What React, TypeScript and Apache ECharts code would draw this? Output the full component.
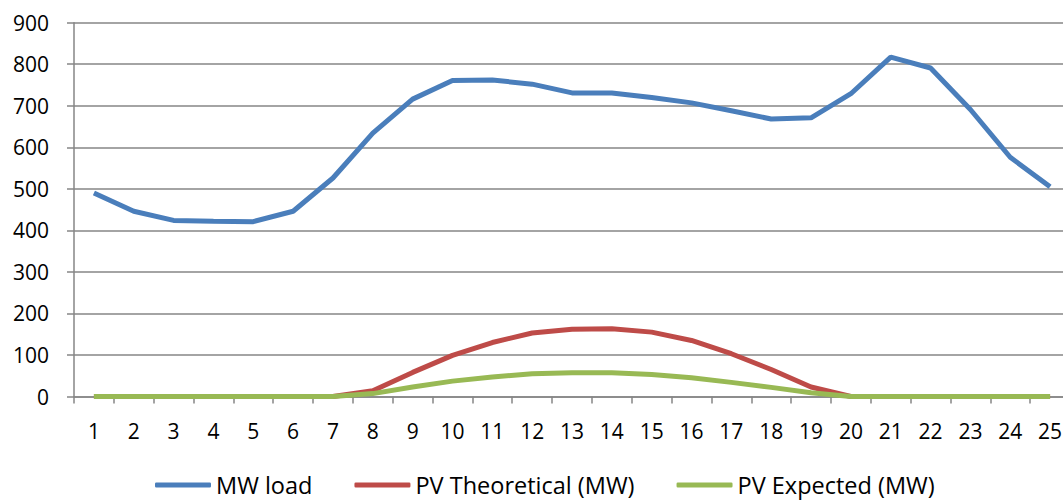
import React, { useEffect, useRef } from "react";
import * as echarts from "echarts";

const categories = ["1","2","3","4","5","6","7","8","9","10","11","12","13","14","15","16","17","18","19","20","21","22","23","24","25"];
const mwLoad = [490, 446, 424, 422, 421, 446, 526, 634, 716, 761, 762, 752, 731, 731, 720, 707, 688, 668, 671, 729, 817, 791, 691, 576, 505];
const pvTheoretical = [0, 0, 0, 0, 0, 0, 0, 14, 58, 99, 130, 153, 162, 163, 155, 135, 103, 65, 23, 0, 0, 0, 0, 0, 0];
const pvExpected = [0, 0, 0, 0, 0, 0, 0, 7, 23, 37, 47, 55, 57, 57, 53, 45, 34, 22, 9, 0, 0, 0, 0, 0, 0];
const seriesNames = ["MW load", "PV Theoretical (MW)", "PV Expected (MW)"];
const colors = ["#4A7EBB", "#BE4B48", "#98B954"];

const FONT = "Open Sans";

export default function App() {
  const ref = useRef<HTMLDivElement>(null);
  useEffect(() => {
    if (!ref.current) return;
    document.body.style.overflow = "hidden";
    const chart = echarts.init(ref.current, null, { renderer: "svg" });
    const mk = (name: string, data: number[], color: string) => ({
      name,
      type: "line",
      data,
      symbol: "none",
      showSymbol: false,
      lineStyle: { color, width: 5 },
      itemStyle: { color },
    });
    chart.setOption({
      animation: false,
      backgroundColor: "#ffffff",
      grid: { left: 74, right: 0, top: 22.7, bottom: 103.5, containLabel: false },
      legend: {
        data: seriesNames.map((n) => ({ name: n, icon: "roundRect" })),
        left: 155,
        top: 472,
        padding: 0,
        itemWidth: 56,
        itemHeight: 5,
        itemGap: 42,
        textStyle: { fontFamily: FONT, fontSize: 23.5, color: "#000", lineHeight: 26 },
      },
      xAxis: {
        type: "category",
        data: categories,
        boundaryGap: true,
        axisLine: { lineStyle: { color: "#868686", width: 1.5 } },
        axisTick: { show: true, length: 7, lineStyle: { color: "#868686", width: 1.5 } },
        axisLabel: { margin: 24, fontFamily: FONT, fontSize: 21, color: "#000", interval: 0 },
        splitLine: { show: false },
      },
      yAxis: {
        type: "value",
        min: 0,
        max: 900,
        interval: 100,
        axisLine: { show: true, lineStyle: { color: "#868686", width: 1.5 } },
        axisTick: { show: true, length: 7, lineStyle: { color: "#868686", width: 1.5 } },
        axisLabel: { margin: 25, fontFamily: FONT, fontSize: 21, color: "#000" },
        splitLine: { show: true, lineStyle: { color: "#868686", width: 1.5 } },
      },
      series: [
        mk(seriesNames[0], mwLoad, colors[0]),
        mk(seriesNames[1], pvTheoretical, colors[1]),
        mk(seriesNames[2], pvExpected, colors[2]),
      ],
    });
    return () => chart.dispose();
  }, []);
  return (
    <div
      ref={ref}
      style={{ position: "fixed", left: 0, top: 0, width: 1070, height: 500 }}
    />
  );
}
